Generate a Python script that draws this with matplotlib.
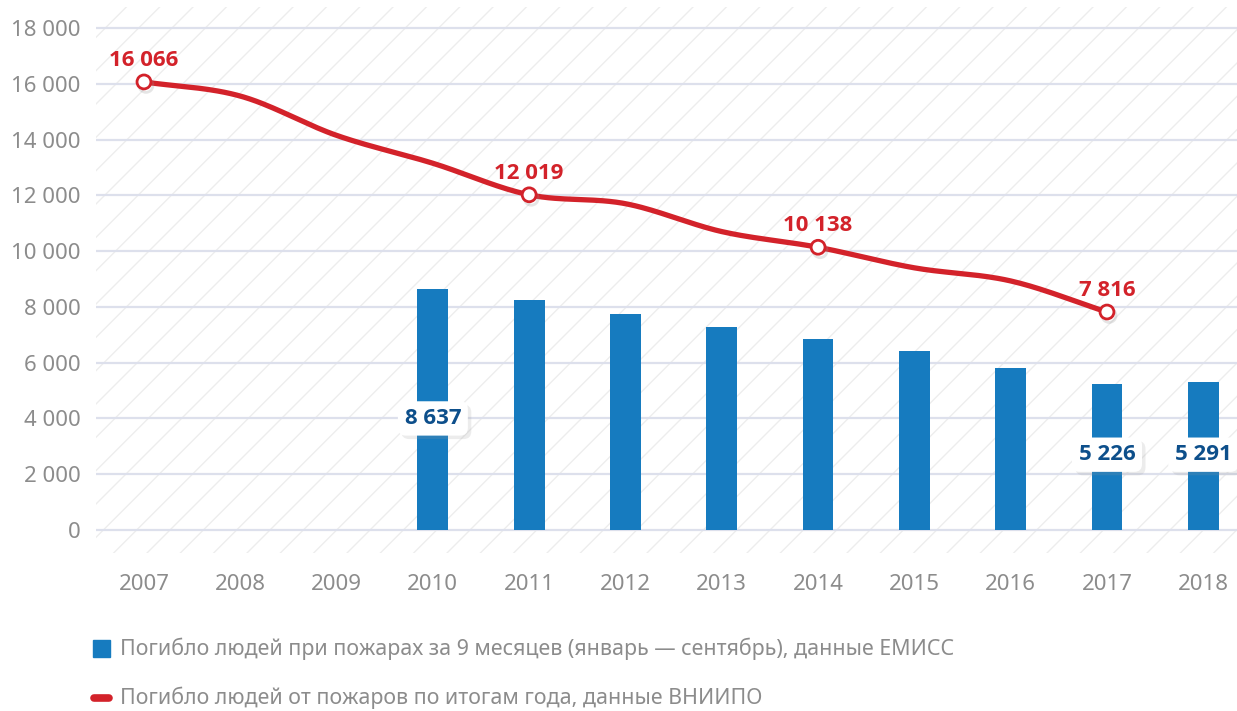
import numpy as np
import matplotlib.pyplot as plt
from matplotlib.patches import Rectangle
import matplotlib.patheffects as pe

plt.rcParams['font.family'] = ['Noto Sans', 'DejaVu Sans']

years = ['2007', '2008', '2009', '2010', '2011', '2012',
         '2013', '2014', '2015', '2016', '2017', '2018']
# annual deaths (VNIIPO), 2007-2017
annual = [16066, 15560, 14150, 13150, 12019, 11700, 10700, 10138, 9400, 8930, 7816]
# nine-month deaths (EMISS), 2010-2018
nine_months = [8637, 8260, 7760, 7290, 6860, 6430, 5820, 5226, 5291]
nine_start = 3

labelled_line = [0, 4, 7, 10]           # points with a value label
labelled_bars = [3, 10, 11]             # bars with a value label
bar_label_y = [4000, 2700, 2700]

RED = '#d3222a'
BLUE = '#167bbf'
DARK_BLUE = '#0d4f8b'
GREY = '#8c8c8c'
NUM_FONT = ['Open Sans', 'DejaVu Sans']

W, H = 1237, 711
fig = plt.figure(figsize=(W / 100, H / 100), dpi=100)
ax = fig.add_axes([96 / W, (H - 553) / H, (W - 96) / W, (553 - 7) / H])

x = np.arange(len(years))
ax.set_xlim(-0.498, 11.35)
ax.set_ylim(-825, 18753)

# hatched background
bg = Rectangle((0, 0), 1, 1, transform=ax.transAxes, facecolor='white',
               edgecolor='#ededed', hatch='/', linewidth=0, zorder=0)
ax.add_patch(bg)

for v in range(0, 18001, 2000):
    ax.axhline(v, color='#dde0ec', lw=1.6, zorder=1)

# bars
bx = x[nine_start:]
ax.bar(bx, nine_months, width=0.32, color=BLUE, zorder=2)


def smooth(xs, ys, n=30):
    xs = np.asarray(xs, float)
    ys = np.asarray(ys, float)
    m = np.gradient(ys, xs)
    out_x, out_y = [], []
    for i in range(len(xs) - 1):
        t = np.linspace(0, 1, n, endpoint=False)
        h = xs[i + 1] - xs[i]
        h00 = 2 * t**3 - 3 * t**2 + 1
        h10 = t**3 - 2 * t**2 + t
        h01 = -2 * t**3 + 3 * t**2
        h11 = t**3 - t**2
        out_x.append(xs[i] + t * h)
        out_y.append(h00 * ys[i] + h10 * h * m[i] + h01 * ys[i + 1] + h11 * h * m[i + 1])
    out_x.append([xs[-1]])
    out_y.append([ys[-1]])
    return np.concatenate(out_x), np.concatenate(out_y)


lx = x[:len(annual)]
sx, sy = smooth(lx, annual)
ax.plot(sx, sy, color=RED, lw=3.8, solid_capstyle='round', zorder=3)

ann = np.array(annual)
ax.plot(lx[labelled_line], ann[labelled_line], 'o', ms=10, mfc='white',
        mec=RED, mew=2, zorder=4,
        path_effects=[pe.SimpleLineShadow(offset=(1.5, -2.5), shadow_color='0.6', alpha=0.25),
                      pe.Normal()])

for i in labelled_line:
    ax.annotate(f'{annual[i]:,}'.replace(',', ' '), (lx[i], annual[i]),
                xytext=(0, 8), textcoords='offset points', ha='center', va='bottom',
                fontsize=16, fontweight='bold', color=RED, family=NUM_FONT, zorder=5)

for i, yv in zip(labelled_bars, bar_label_y):
    val = nine_months[i - nine_start]
    t = ax.text(x[i], yv, f'{val:,}'.replace(',', ' '), ha='center', va='center',
                fontsize=16, fontweight='bold', color=DARK_BLUE, family=NUM_FONT,
                zorder=6,
                bbox=dict(boxstyle='round,pad=0.3,rounding_size=0.35',
                          fc='white', ec='none'))
    t.get_bbox_patch().set_path_effects(
        [pe.SimplePatchShadow(offset=(2.5, -2.5), shadow_rgbFace='0.6', alpha=0.18),
         pe.Normal()])

ax.set_yticks(range(0, 18001, 2000))
ax.set_yticklabels([f'{v:,}'.replace(',', ' ') for v in range(0, 18001, 2000)])
ax.set_xticks(x)
ax.set_xticklabels(years)
ax.tick_params(axis='y', length=0, pad=11, labelsize=16, labelcolor=GREY)
ax.tick_params(axis='x', length=0, pad=15, labelsize=16, labelcolor=GREY)
for s in ax.spines.values():
    s.set_visible(False)

# legend
fig.patches.append(Rectangle((93 / W, (H - 657) / H), 17 / W, 17 / H,
                             transform=fig.transFigure, color=BLUE))
fig.lines.append(plt.Line2D([94 / W, 109 / W], [(H - 698) / H] * 2,
                            transform=fig.transFigure, color=RED, lw=5.5,
                            solid_capstyle='round'))
fig.text(120 / W, (H - 649) / H,
         'Погибло людей при пожарах за 9 месяцев (январь — сентябрь), данные ЕМИСС',
         va='center', ha='left', fontsize=15.4, color=GREY)
fig.text(120 / W, (H - 698) / H,
         'Погибло людей от пожаров по итогам года, данные ВНИИПО',
         va='center', ha='left', fontsize=15.4, color=GREY)

fig.savefig('out.png', dpi=100)
